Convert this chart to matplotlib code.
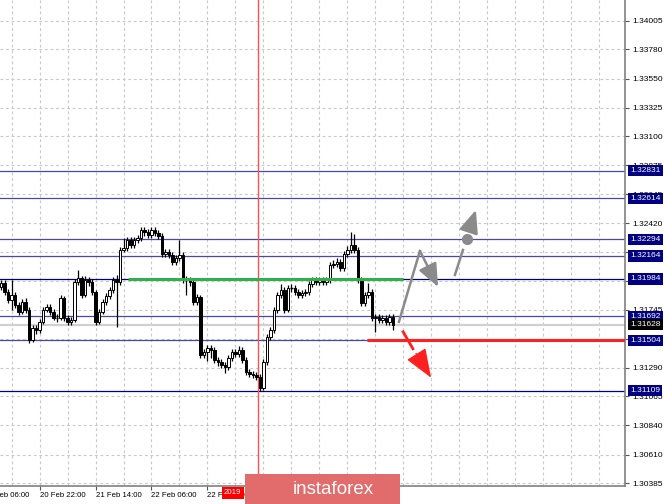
import matplotlib
matplotlib.use("Agg")
import matplotlib.pyplot as plt
from matplotlib.patches import Rectangle

# H1 candles, opens are the previous close
first_open = 1.31922
closes = [
    1.31954, 1.31883, 1.31821, 1.31860, 1.31782, 1.31727, 1.31805, 1.31743, 1.31508, 1.31602,
    1.31586, 1.31649, 1.31743, 1.31766, 1.31727, 1.31680, 1.31680, 1.31836, 1.31680, 1.31649,
    1.31665, 1.31961, 1.31993, 1.31860, 1.31977, 1.31961, 1.31883, 1.31649, 1.31727, 1.31805,
    1.31852, 1.31899, 1.31977, 1.31961, 1.32211, 1.32227, 1.32289, 1.32250, 1.32289, 1.32305,
    1.32367, 1.32352, 1.32328, 1.32367, 1.32344, 1.32321, 1.32180, 1.32196, 1.32172, 1.32118,
    1.32149, 1.32172, 1.31977, 1.31977, 1.31961, 1.31805, 1.31844, 1.31391, 1.31415, 1.31446,
    1.31430, 1.31352, 1.31337, 1.31313, 1.31297, 1.31368, 1.31415, 1.31399, 1.31430, 1.31352,
    1.31258, 1.31243, 1.31235, 1.31219, 1.31132, 1.31337, 1.31532, 1.31586, 1.31743, 1.31860,
    1.31899, 1.31743, 1.31915, 1.31915, 1.31883, 1.31860, 1.31876, 1.31883, 1.31946, 1.31977,
    1.31961, 1.31977, 1.31961, 1.31977, 1.32094, 1.32102, 1.32118, 1.32071, 1.32180, 1.32211,
    1.32250, 1.32211, 1.31977, 1.31797, 1.31860, 1.31883, 1.31680, 1.31688, 1.31665, 1.31680,
    1.31649, 1.31688, 1.31628,
]
highs = [
    1.31977, 1.31977, 1.31907, 1.31977, 1.31883, 1.31805, 1.31829, 1.31836, 1.31766, 1.31626,
    1.31626, 1.31672, 1.31766, 1.31790, 1.31790, 1.31750, 1.31711, 1.31860, 1.31852, 1.31704,
    1.31688, 1.31985, 1.32055, 1.32008, 1.32008, 1.32000, 1.31985, 1.31899, 1.31750, 1.31829,
    1.31876, 1.31922, 1.32000, 1.32016, 1.32235, 1.32305, 1.32313, 1.32313, 1.32313, 1.32328,
    1.32391, 1.32391, 1.32375, 1.32391, 1.32391, 1.32367, 1.32344, 1.32219, 1.32219, 1.32196,
    1.32172, 1.32289, 1.32196, 1.32008, 1.32000, 1.31985, 1.31868, 1.31860, 1.31438, 1.31469,
    1.31469, 1.31454, 1.31376, 1.31360, 1.31337, 1.31391, 1.31438, 1.31438, 1.31462, 1.31454,
    1.31376, 1.31282, 1.31266, 1.31258, 1.31243, 1.31360, 1.31555, 1.31610, 1.31766, 1.31883,
    1.31946, 1.31922, 1.31938, 1.31946, 1.31938, 1.31907, 1.31899, 1.31907, 1.31969, 1.32000,
    1.32000, 1.32000, 1.32000, 1.32000, 1.32118, 1.32133, 1.32149, 1.32141, 1.32203, 1.32242,
    1.32352, 1.32336, 1.32235, 1.32000, 1.31883, 1.31954, 1.31907, 1.31711, 1.31711, 1.31704,
    1.31704, 1.31711, 1.31711,
]
lows = [
    1.31899, 1.31860, 1.31797, 1.31743, 1.31758, 1.31704, 1.31711, 1.31719, 1.31485, 1.31493,
    1.31555, 1.31563, 1.31633, 1.31727, 1.31704, 1.31665, 1.31649, 1.31665, 1.31657, 1.31626,
    1.31626, 1.31649, 1.31938, 1.31836, 1.31844, 1.31930, 1.31860, 1.31626, 1.31633, 1.31711,
    1.31782, 1.31829, 1.31876, 1.31610, 1.31938, 1.32196, 1.32203, 1.32227, 1.32227, 1.32266,
    1.32281, 1.32321, 1.32305, 1.32305, 1.32321, 1.32297, 1.32157, 1.32157, 1.32149, 1.32094,
    1.32094, 1.32125, 1.31954, 1.31860, 1.31930, 1.31782, 1.31782, 1.31368, 1.31368, 1.31344,
    1.31368, 1.31329, 1.31305, 1.31290, 1.31251, 1.31274, 1.31344, 1.31376, 1.31376, 1.31329,
    1.31235, 1.31219, 1.31212, 1.31196, 1.31108, 1.31116, 1.31313, 1.31508, 1.31563, 1.31719,
    1.31836, 1.31719, 1.31727, 1.31883, 1.31860, 1.31836, 1.31836, 1.31852, 1.31860, 1.31922,
    1.31938, 1.31938, 1.31938, 1.31938, 1.31954, 1.32071, 1.32079, 1.32047, 1.32047, 1.32157,
    1.32188, 1.32188, 1.31954, 1.31774, 1.31774, 1.31836, 1.31657, 1.31571, 1.31641, 1.31641,
    1.31626, 1.31626, 1.31586,
]

price_ticks = [1.34005, 1.33780, 1.33550, 1.33325, 1.33100, 1.32875, 1.32645, 1.32420, 1.32195,
               1.31970, 1.31745, 1.31515, 1.31290, 1.31065, 1.30840, 1.30610, 1.30385]
time_tick_bars = [11, 27, 43, 59]
time_tick_labels = ["20 Feb 22:00", "21 Feb 14:00", "22 Feb 06:00", "22 Feb 22:00"]
first_label_bar = -5
first_label = "20 Feb 06:00"

levels_light = [1.32831, 1.32614, 1.32294, 1.32164, 1.31692, 1.31504]
levels_dark = [1.31984, 1.31109]
bid = 1.31628

# forecast drawings (bar index, price)
green_level = (36.3, 114.9, 1.31984)
red_level = (104.6, 180, 1.31504)
up_path = [(113.7, 1.31649), (119.7, 1.32203)]
up_tip = (124.9, 1.31922)
up2_path = [(129.7, 1.32016), (132.0, 1.32211)]
up2_dot = (133.1, 1.32297)
up2_tip = [(133.7, 1.32359), (135.7, 1.32524)]
down_line = [(114.9, 1.31571), (117.7, 1.31438)]
down_tip = [(118.6, 1.31400), (122.9, 1.31212)]
vline_bar = 73.4

fig = plt.figure(figsize=(6.65, 5.04), dpi=100)
ax = fig.add_axes([0, 18 / 504, 625 / 665, 486 / 504])

# grid
ax.set_yticks(price_ticks)
ax.set_yticklabels(["%.5f" % p for p in price_ticks])
ax.set_xticks(time_tick_bars)
ax.set_xticklabels(time_tick_labels)
ax.set_xticks([3 + 8 * k for k in range(0, 23)], minor=True)
ax.grid(True, which="both", color="#c8c8c8", lw=0.8, ls=(0, (2.5, 2.5)))
ax.set_axisbelow(True)
ax.yaxis.tick_right()
ax.tick_params(axis="y", labelsize=6, length=3, pad=2, color="#555555")
ax.tick_params(axis="x", labelsize=5.6, length=3, pad=1.5, color="#555555")
ax.tick_params(axis="x", which="minor", length=0)
for lbl in ax.get_xticklabels():
    lbl.set_horizontalalignment("left")
for lbl in ax.get_xticklabels() + ax.get_yticklabels():
    lbl.set_family("Liberation Sans")
for s in ["top", "left"]:
    ax.spines[s].set_visible(False)
for s in ["right", "bottom"]:
    ax.spines[s].set_color("#808080")
    ax.spines[s].set_linewidth(1.2)
# the first date label sits partly left of the chart
ax.text(first_label_bar, -0.0125, first_label, transform=ax.get_xaxis_transform(), fontsize=5.6,
        family="Liberation Sans", va="top", ha="left", clip_on=False)

# level lines
for lv in levels_light:
    ax.axhline(lv, color="#4848a8", lw=0.9, zorder=2)
for lv in levels_dark:
    ax.axhline(lv, color="#00007a", lw=0.9, zorder=2)
ax.axhline(bid, color="#d0d0d0", lw=1.6, zorder=1.8)
ax.axvline(vline_bar, color="#ff5050", lw=1, zorder=2)

# candles
opens = [first_open] + closes[:-1]
for i in range(len(closes)):
    o, c = opens[i], closes[i]
    ax.vlines(i, lows[i], highs[i], color="black", lw=0.9, zorder=3)
    lo, hi = min(o, c), max(o, c)
    fc = "white" if c > o else "black"
    if hi - lo < 0.00004:
        ax.hlines(c, i - 0.38, i + 0.38, color="black", lw=1, zorder=4)
    else:
        ax.bar(i, hi - lo, bottom=lo, width=0.78, facecolor=fc, edgecolor="black", lw=0.7, zorder=4)

# forecast lines and arrows
ax.plot(green_level[:2], [green_level[2]] * 2, color="#2fb04a", lw=2.2, zorder=5, solid_capstyle="butt")
ax.plot(red_level[:2], [red_level[2]] * 2, color="#ff2020", lw=2.2, zorder=5, solid_capstyle="butt")
gray = "#8a8a8a"
ax.plot([p[0] for p in up_path], [p[1] for p in up_path], color=gray, lw=1.8, zorder=6)
ax.annotate("", xy=up_tip, xytext=up_path[-1],
            arrowprops=dict(arrowstyle="-|>,head_length=1.0,head_width=0.42", color=gray, lw=1.8,
                            mutation_scale=14, shrinkA=0, shrinkB=0), zorder=6)
ax.plot([p[0] for p in up2_path], [p[1] for p in up2_path], color=gray, lw=1.8, zorder=6)
ax.plot(*up2_dot, "o", color=gray, ms=7, zorder=6)
ax.annotate("", xy=up2_tip[1], xytext=up2_tip[0],
            arrowprops=dict(arrowstyle="-|>,head_length=1.0,head_width=0.42", color=gray, lw=1.8,
                            mutation_scale=14, shrinkA=0, shrinkB=0), zorder=6)
ax.plot([p[0] for p in down_line], [p[1] for p in down_line], color="#ff2020", lw=2, zorder=6)
ax.annotate("", xy=down_tip[1], xytext=down_tip[0],
            arrowprops=dict(arrowstyle="-|>,head_length=1.3,head_width=0.5", color="#ff2020", lw=1,
                            mutation_scale=14, shrinkA=0, shrinkB=0), zorder=6)

# limits last, set_xticks would widen them
ax.set_xlim(-0.29, 178.3)
ax.set_ylim(1.30365, 1.34166)

# price boxes on the right axis
trans = ax.get_yaxis_transform()
for lv in levels_light + levels_dark + [bid]:
    box = "black" if lv == bid else "#000080"
    ax.text(1.0085, lv, "%.5f" % lv, transform=trans, fontsize=6, family="Liberation Sans",
            color="white", va="center", ha="left", clip_on=False, zorder=8,
            bbox=dict(boxstyle="square,pad=0.25", fc=box, ec="none"))

# time label of the vertical line and logo
fig.text(224 / 665, 1 - 493 / 504, "2019", fontsize=5.6, family="Liberation Sans",
         color="white", va="center", ha="left", zorder=5,
         bbox=dict(boxstyle="square,pad=0.3", fc="#ff0000", ec="none"))
fig.add_artist(Rectangle((245 / 665, 0), 155 / 665, 30 / 504, transform=fig.transFigure,
                         facecolor="#e26b6b", edgecolor="none", zorder=10))
fig.text(333 / 665, 1 - 489 / 504, "instaforex", fontsize=13.5, family="Liberation Sans",
         color="white", va="center", ha="center", zorder=11)

fig.savefig("out.png", dpi=100)
